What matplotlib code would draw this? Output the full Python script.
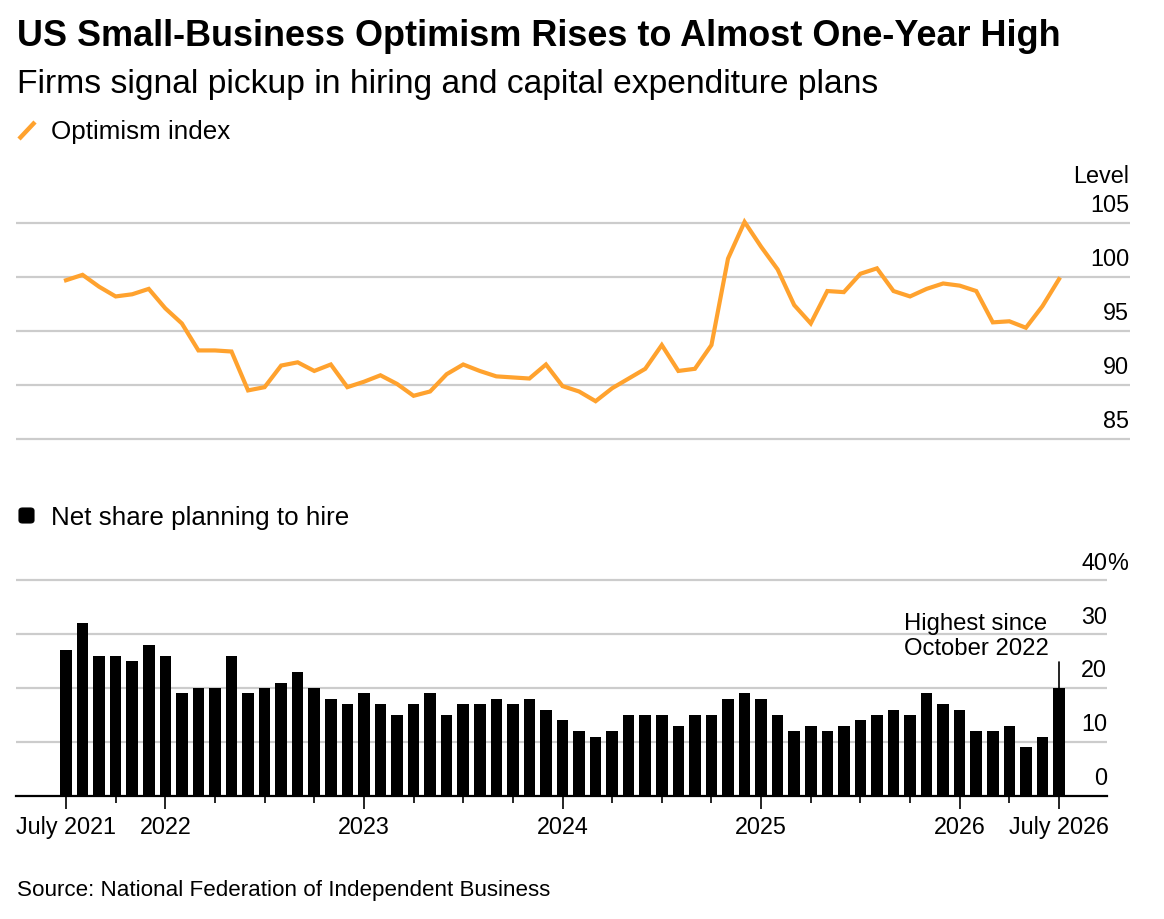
import matplotlib
matplotlib.use("Agg")
import matplotlib.pyplot as plt
from matplotlib.lines import Line2D
from matplotlib.patches import FancyBboxPatch
import numpy as np

# ---------------- data ----------------
months = ["2021-07", "2021-08", "2021-09", "2021-10", "2021-11", "2021-12",
          "2022-01", "2022-02", "2022-03", "2022-04", "2022-05", "2022-06",
          "2022-07", "2022-08", "2022-09", "2022-10", "2022-11", "2022-12",
          "2023-01", "2023-02", "2023-03", "2023-04", "2023-05", "2023-06",
          "2023-07", "2023-08", "2023-09", "2023-10", "2023-11", "2023-12",
          "2024-01", "2024-02", "2024-03", "2024-04", "2024-05", "2024-06",
          "2024-07", "2024-08", "2024-09", "2024-10", "2024-11", "2024-12",
          "2025-01", "2025-02", "2025-03", "2025-04", "2025-05", "2025-06",
          "2025-07", "2025-08", "2025-09", "2025-10", "2025-11", "2025-12",
          "2026-01", "2026-02", "2026-03", "2026-04", "2026-05", "2026-06",
          "2026-07"]

optimism_index = [99.7, 100.2, 99.1, 98.2, 98.4, 98.9,
                  97.1, 95.7, 93.2, 93.2, 93.1, 89.5,
                  89.8, 91.8, 92.1, 91.3, 91.9, 89.8,
                  90.3, 90.9, 90.1, 89.0, 89.4, 91.0,
                  91.9, 91.3, 90.8, 90.7, 90.6, 91.9,
                  89.9, 89.4, 88.5, 89.7, 90.6, 91.5,
                  93.7, 91.3, 91.5, 93.7, 101.7, 105.1,
                  102.8, 100.7, 97.4, 95.7, 98.7, 98.6,
                  100.3, 100.8, 98.7, 98.2, 98.9, 99.4,
                  99.2, 98.7, 95.8, 95.9, 95.3, 97.3,
                  99.8]

hiring_plans = [27, 32, 26, 26, 25, 28,
                26, 19, 20, 20, 26, 19,
                20, 21, 23, 20, 18, 17,
                19, 17, 15, 17, 19, 15,
                17, 17, 18, 17, 18, 16,
                14, 12, 11, 12, 15, 15,
                15, 13, 15, 15, 18, 19,
                18, 15, 12, 13, 12, 13,
                14, 15, 16, 15, 19, 17,
                16, 12, 12, 13, 9, 11,
                20]

x_tick_labels = {0: "July 2021", 6: "2022", 18: "2023", 30: "2024",
                 42: "2025", 54: "2026", 60: "July 2026"}
line_ticks = [85, 90, 95, 100, 105]
bar_ticks = [0, 10, 20, 30, 40]

title = "US Small-Business Optimism Rises to Almost One-Year High"
subtitle = "Firms signal pickup in hiring and capital expenditure plans"
legend_line = "Optimism index"
legend_bar = "Net share planning to hire"
annotation = "Highest since\nOctober 2022"
source = "Source: National Federation of Independent Business"

# ---------------- style ----------------
W, H = 1164, 920
DPI = 100
ORANGE = "#FFA22E"
GRID = "#cccccc"
plt.rcParams["font.family"] = ["Liberation Sans", "DejaVu Sans"]

fig = plt.figure(figsize=(W / DPI, H / DPI), dpi=DPI)


def fx(x):
    return x / W


def fy(y):
    return 1 - y / H


x = np.arange(len(months))
PX_PER_MONTH = (1059 - 66) / 60.0
X0 = 66  # pixel of first month


def xlim_for(left_px, right_px):
    return (-(X0 - left_px) / PX_PER_MONTH, (right_px - X0) / PX_PER_MONTH)


# ---------------- top: line chart ----------------
top_px, bot_px = 202.4, 461.6   # 107 .. 83
ax1 = fig.add_axes([fx(16), fy(bot_px), fx(1130) - fx(16), fy(top_px) - fy(bot_px)])
ax1.set_xlim(*xlim_for(16, 1130))
ax1.set_ylim(83, 107)
for v in line_ticks:
    ax1.axhline(v, color=GRID, lw=1.6, zorder=1)
ax1.plot(x, optimism_index, color=ORANGE, lw=3.0, solid_joinstyle="miter",
         zorder=3, clip_on=False)
ax1.axis("off")
# y labels (right aligned, above gridlines)
px_per_unit1 = 54 / 5.0
for v in line_ticks:
    ypix = 440 - (v - 85) * px_per_unit1
    fig.text(fx(1129), fy(ypix - 11.5), str(v), ha="right", va="baseline",
             fontsize=16.8, color="black")
fig.text(fx(1129), fy(183), "Level", ha="right", va="baseline",
         fontsize=16.8, color="black")

# ---------------- bottom: bar chart ----------------
b_top, b_bot = 570.2, 797.0   # 42 .. 0
ax2 = fig.add_axes([fx(16), fy(b_bot), fx(1107) - fx(16), fy(b_top) - fy(b_bot)])
ax2.set_xlim(*xlim_for(16, 1107))
ax2.set_ylim(0, 42)
for v in bar_ticks[1:]:
    ax2.axhline(v, color=GRID, lw=1.6, zorder=1)
ax2.bar(x, hiring_plans, width=0.7, color="black", zorder=2)
for s in ["top", "right", "left"]:
    ax2.spines[s].set_visible(False)
ax2.spines["bottom"].set_color("black")
ax2.spines["bottom"].set_linewidth(1.6)
ax2.spines["bottom"].set_zorder(4)
ax2.set_yticks([])
major = sorted(x_tick_labels.keys())
minor = [m for m in range(0, 61, 3) if m not in major]
ax2.set_xticks(major)
ax2.set_xticklabels([x_tick_labels[m] for m in major], fontsize=16.8)
ax2.set_xticks(minor, minor=True)
ax2.tick_params(axis="x", which="major", length=9, width=1.2, color="black",
                pad=4.5, direction="out")
ax2.tick_params(axis="x", which="minor", length=5, width=1.2, color="black",
                direction="out")

px_per_unit2 = 216 / 40.0
for v in bar_ticks:
    ypix = 797 - v * px_per_unit2
    fig.text(fx(1107), fy(ypix - 11.5), str(v), ha="right", va="baseline",
             fontsize=16.8, color="black")
    if v == bar_ticks[-1]:
        fig.text(fx(1107), fy(ypix - 11.5), "%", ha="left", va="baseline",
                 fontsize=16.8, color="black")

# annotation for last bar
last = len(x) - 1
ax2.annotate("", xy=(x[last], hiring_plans[last]),
             xytext=(x[last], hiring_plans[last] + 26 / px_per_unit2),
             arrowprops=dict(arrowstyle="-", color="black", lw=1.2,
                             shrinkA=0, shrinkB=0))
fig.text(fx(904), fy(630), annotation.split("\n")[0], ha="left", va="baseline",
         fontsize=17.2, color="black")
fig.text(fx(904), fy(655), annotation.split("\n")[1], ha="left", va="baseline",
         fontsize=17.2, color="black")

# ---------------- titles & legends ----------------
fig.text(fx(17), fy(46), title, ha="left", va="baseline", fontsize=25.9,
         fontweight="bold", color="black")
fig.text(fx(17), fy(93), subtitle, ha="left", va="baseline", fontsize=24.2,
         color="black")

fig.add_artist(Line2D([fx(19), fx(35)], [fy(140), fy(123)], color=ORANGE,
                      lw=3.2, solid_capstyle="butt", transform=fig.transFigure))
fig.text(fx(51), fy(139), legend_line, ha="left", va="baseline", fontsize=18.7,
         color="black")

fig.add_artist(FancyBboxPatch((fx(19), fy(524)), fx(34) - fx(19), fy(509) - fy(524),
                              boxstyle="round,pad=0,rounding_size=0.003",
                              transform=fig.transFigure, facecolor="black",
                              edgecolor="black", lw=0.8))
fig.text(fx(51), fy(525), legend_bar, ha="left", va="baseline", fontsize=18.7,
         color="black")

fig.text(fx(17), fy(896), source, ha="left", va="baseline", fontsize=16.1,
         color="black")

fig.savefig("out.png", dpi=DPI, facecolor="white")
